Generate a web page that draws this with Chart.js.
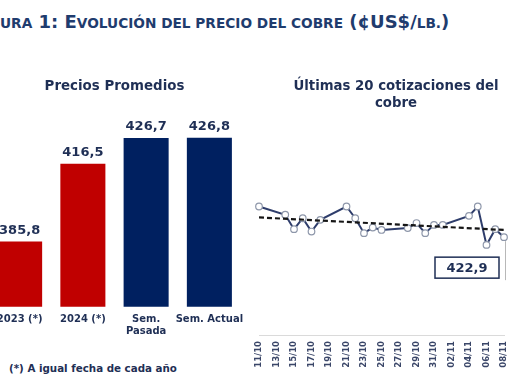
<!DOCTYPE html>
<html>
<head>
<meta charset="utf-8">
<script src="https://cdn.jsdelivr.net/npm/chart.js@4"></script>
<style>
  html, body { margin:0; padding:0; background:#fff; width:510px; height:382px; overflow:hidden; position:relative; }
  #title { position:absolute; left:0; top:12px; font-family:"DejaVu Sans"; font-weight:bold; font-size:18px; line-height:20px; color:#1f3c6e; white-space:nowrap; }
  #title .sc { font-size:13.7px; }
  #note { position:absolute; left:9px; top:362px; font-family:"DejaVu Sans"; font-weight:bold; font-size:10.3px; color:#1f2f55; white-space:nowrap; }
  #left { position:absolute; left:-24px; top:70px; }
  #right { position:absolute; left:250px; top:68px; }
</style>
</head>
<body>
<div id="title"><span class="sc">URA</span> 1: E<span class="sc">VOLUCIÓN DEL PRECIO DEL COBRE</span> (¢US$/<span class="sc">LB.</span>)</div>
<canvas id="left" width="277" height="267"></canvas>
<canvas id="right" width="292" height="307"></canvas>
<div id="note">(*) A igual fecha de cada año</div>
<script>
// ---- Data: left chart (average prices) ----
const avgCategories = ["2023 (*)", "2024 (*)", ["Sem.", "Pasada"], "Sem. Actual"];
const avgValues = [385.8, 416.5, 426.7, 426.8];
const avgColors = ["#c00000", "#c00000", "#002060", "#002060"];

// ---- Data: right chart (last quotes) ----
const days = ["11/10","12/10","13/10","14/10","15/10","16/10","17/10","18/10","19/10","20/10",
              "21/10","22/10","23/10","24/10","25/10","26/10","27/10","28/10","29/10","30/10",
              "31/10","01/11","02/11","03/11","04/11","05/11","06/11","07/11","08/11"];
const prices = [434.4, null, null, 431.3, 425.9, 430.0, 425.0, 429.4, null, null,
                434.4, 430.0, 424.4, 426.5, 425.6, null, null, 426.3, 428.2, 424.4,
                427.5, 427.5, null, null, 430.9, 434.4, 420.0, 425.9, 422.9];
const trendEnds = [430.3, 425.6];

const navy = "#1f2f55";
const fmt = v => v.toFixed(1).replace(".", ",");

const hiddenAxis = (w, pos, extra) => Object.assign({
  display: true, position: pos,
  ticks: { display: false }, grid: { display: false, drawTicks: false }, border: { display: false },
  afterFit(s) { s.width = w; }
}, extra);

const barLabels = {
  id: "barLabels",
  afterDatasetsDraw(chart) {
    const ctx = chart.ctx;
    const meta = chart.getDatasetMeta(0);
    ctx.save();
    ctx.font = "bold 13px 'DejaVu Sans'";
    ctx.fillStyle = navy;
    ctx.textAlign = "center";
    ctx.textBaseline = "middle";
    meta.data.forEach((el, i) => {
      ctx.fillText(fmt(chart.data.datasets[0].data[i]), el.x, el.y - 11);
    });
    ctx.restore();
  }
};

new Chart(document.getElementById("left"), {
  type: "bar",
  data: {
    labels: avgCategories,
    datasets: [{ data: avgValues, backgroundColor: avgColors, borderWidth: 0,
                 barPercentage: 0.712, categoryPercentage: 1 }]
  },
  options: {
    responsive: false, animation: false,
    layout: { padding: 0, autoPadding: false },
    plugins: {
      legend: { display: false }, tooltip: { enabled: false },
      title: { display: true, text: "Precios Promedios", color: navy,
               font: { family: "DejaVu Sans", size: 13.4, weight: "bold", lineHeight: 1.2 },
               padding: { top: 8.5, bottom: 9.7 } }
    },
    scales: {
      y: hiddenAxis(12, "left", { min: 360, max: 440 }),
      yR: hiddenAxis(12, "right", { min: 0, max: 1 }),
      x: {
        grid: { display: false, drawTicks: false }, border: { display: false },
        ticks: { color: navy, padding: 7, maxRotation: 0, autoSkip: false,
                 font: { family: "DejaVu Sans", size: 10, weight: "bold", lineHeight: 1.15 } },
        afterFit(s) { s.height = 30.3; s.paddingLeft = 0; s.paddingRight = 0; }
      }
    }
  },
  plugins: [barLabels]
});

const lastLabel = {
  id: "lastLabel",
  afterDatasetsDraw(chart) {
    const ctx = chart.ctx;
    const meta = chart.getDatasetMeta(0);
    const idx = prices.length - 1;
    const el = meta.data[idx];
    ctx.save();
    ctx.strokeStyle = "#b8b8b8";
    ctx.lineWidth = 1;
    ctx.beginPath();
    ctx.moveTo(el.x + 1.5, el.y + 4);
    ctx.lineTo(el.x + 1.5, el.y + 43);
    ctx.stroke();
    const bx = el.x - 69, by = el.y + 20, bw = 64, bh = 21;
    ctx.strokeStyle = "#1f2f55";
    ctx.lineWidth = 1.5;
    ctx.strokeRect(bx, by, bw, bh);
    ctx.font = "bold 13px 'DejaVu Sans'";
    ctx.fillStyle = navy;
    ctx.textAlign = "center";
    ctx.textBaseline = "middle";
    ctx.fillText(fmt(prices[idx]), bx + bw / 2, by + bh / 2 + 1);
    ctx.restore();
  }
};

const trendData = days.map((d, i) => i === 0 ? trendEnds[0] : (i === days.length - 1 ? trendEnds[1] : null));

new Chart(document.getElementById("right"), {
  type: "line",
  data: {
    labels: days,
    datasets: [
      { data: prices, spanGaps: true, borderColor: "#2e3d6b", borderWidth: 2,
        pointRadius: 3.3, pointBackgroundColor: "#ffffff", pointBorderColor: "#8e97aa",
        pointBorderWidth: 1.2, tension: 0, order: 1 },
      { data: trendData, spanGaps: true, borderColor: "#151515", borderWidth: 2.2,
        borderDash: [5, 3], pointRadius: 0, tension: 0, order: 0 }
    ]
  },
  options: {
    responsive: false, animation: false,
    layout: { padding: 0, autoPadding: false },
    plugins: {
      legend: { display: false }, tooltip: { enabled: false },
      title: { display: true, text: ["Últimas 20 cotizaciones del", "cobre"], color: navy,
               font: { family: "DejaVu Sans", size: 13.3, weight: "bold", lineHeight: 1.3 },
               padding: { top: 10, bottom: 17.4 } }
    },
    scales: {
      y: hiddenAxis(9, "left", { min: 386.2, max: 463.1 }),
      yR: hiddenAxis(38, "right", { min: 0, max: 1 }),
      x: {
        grid: { display: false, drawTicks: false },
        border: { display: true, color: "#dadada", width: 1, dash: [2, 2] },
        ticks: { color: "#3a4668", padding: 6, minRotation: 90, maxRotation: 90, autoSkip: false,
                 font: { family: "DejaVu Sans", size: 8.5, weight: "bold" },
                 callback: function (v, i) { return i % 2 === 0 ? this.getLabelForValue(v) : ""; } },
        afterFit(s) { s.height = 40; s.paddingLeft = 0; s.paddingRight = 0; }
      }
    }
  },
  plugins: [lastLabel]
});
</script>
</body>
</html>
